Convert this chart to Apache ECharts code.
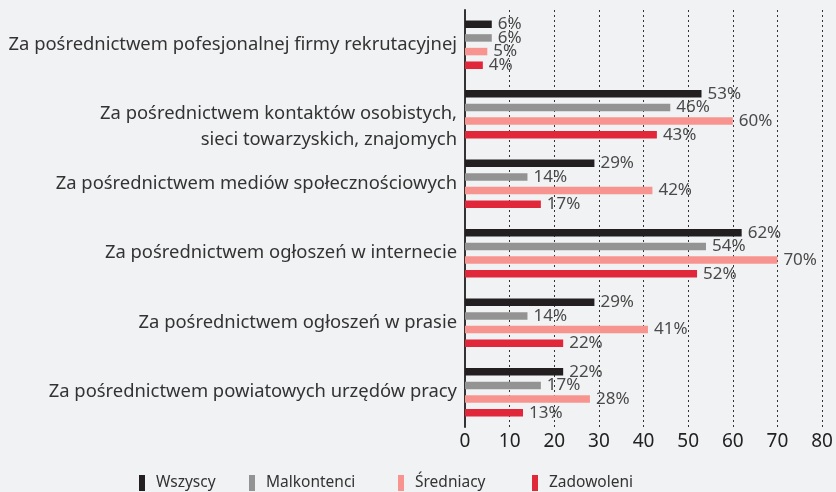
<!DOCTYPE html>
<html><head><meta charset="utf-8">
<script src="https://cdn.jsdelivr.net/npm/echarts@6/dist/echarts.min.js"></script>
<style>html,body{margin:0;padding:0;background:#f1f2f4}#c{width:836px;height:492px}</style>
</head><body><div id="c"></div>
<script>
const categories = [
  "Za pośrednictwem pofesjonalnej firmy rekrutacyjnej",
  "Za pośrednictwem kontaktów osobistych,\nsieci towarzyskich, znajomych",
  "Za pośrednictwem mediów społecznościowych",
  "Za pośrednictwem ogłoszeń w internecie",
  "Za pośrednictwem ogłoszeń w prasie",
  "Za pośrednictwem powiatowych urzędów pracy"
];
const seriesNames = ["Wszyscy", "Malkontenci", "Średniacy", "Zadowoleni"];
const wszyscy = [6, 53, 29, 62, 29, 22];
const malkontenci = [6, 46, 14, 54, 14, 17];
const sredniacy = [5, 60, 42, 70, 41, 28];
const zadowoleni = [4, 43, 17, 52, 22, 13];
const values = [wszyscy, malkontenci, sredniacy, zadowoleni];
const colors = ["#231f20", "#939393", "#f7948f", "#e1273a"];
const legendLeft = [139, 249, 398, 532];
const FONT = "Noto Sans";

const chart = echarts.init(document.getElementById('c'));
chart.setOption({
  backgroundColor: '#f1f2f4',
  animation: false,
  grid: { left: 465, right: 14, top: 10, bottom: 65 },
  xAxis: {
    type: 'value', min: 0, max: 80, interval: 10,
    axisLine: { show: false },
    axisTick: { show: false },
    splitLine: { show: true, lineStyle: { type: [2, 3], color: '#333', width: 1 } },
    axisLabel: { color: '#222', fontSize: 19, fontFamily: FONT, margin: 5 }
  },
  yAxis: {
    type: 'category', data: categories, inverse: true,
    axisLine: { show: true, lineStyle: { color: '#333', width: 2 } },
    axisTick: { show: false },
    axisLabel: { color: '#333', fontSize: 18.4, fontFamily: FONT, margin: 8, align: 'right', lineHeight: 26,
      formatter: v => v.indexOf('\n') >= 0 ? ' \n' + v : v }
  },
  legend: seriesNames.map((n, i) => ({
    data: [n], left: legendLeft[i], top: 475,
    itemWidth: 6, itemHeight: 16, icon: 'rect', padding: 0,
    textStyle: { color: '#333', fontSize: 15.5, fontFamily: FONT, padding: [0, 0, 0, 6] }
  })),
  series: seriesNames.map((n, i) => ({
    name: n, type: 'bar', data: values[i],
    barWidth: 7.5, barGap: '82%',
    itemStyle: { color: colors[i] },
    label: { show: true, position: 'right', distance: 6, formatter: '{c}%',
      color: '#4a4a4a', fontSize: 17, fontFamily: FONT }
  }))
});
</script></body></html>
